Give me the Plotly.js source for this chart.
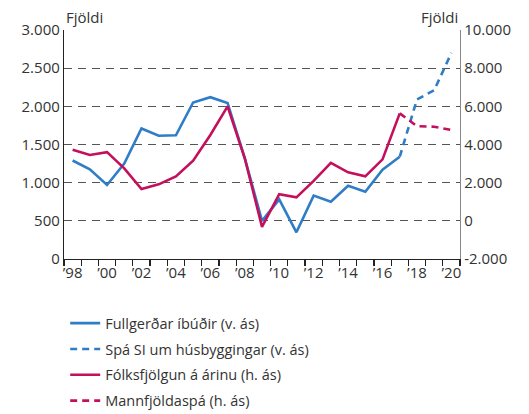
<!DOCTYPE html>
<html>
<head>
<meta charset="utf-8">
<script src="https://cdn.plot.ly/plotly-3.0.1.min.js"></script>
<style>html,body{margin:0;padding:0;background:#fff;}#chart{width:529px;height:414px;}</style>
</head>
<body>
<div id="chart"></div>
<script>
// Data
const yearsActual = [1998,1999,2000,2001,2002,2003,2004,2005,2006,2007,2008,2009,2010,2011,2012,2013,2014,2015,2016,2017];
const housingActual = [1290,1175,970,1250,1710,1615,1620,2050,2120,2045,1320,500,780,350,830,750,960,880,1170,1340];
const popGrowth = [3730,3450,3600,2750,1670,1910,2330,3150,4500,6000,3280,-320,1400,1230,2090,3040,2540,2330,3220,5630];
const yearsForecast = [2017,2018,2019,2020];
const housingForecast = [1340,2090,2210,2700];
const popForecast = [5630,4960,4930,4760];
const xTickVals = [1998,2000,2002,2004,2006,2008,2010,2012,2014,2016,2018,2020];
const xTickText = ["’98","’00","’02","’04","’06","’08","’10","’12","’14","’16","’18","’20"];
const leftTicks = [0,500,1000,1500,2000,2500,3000];
const leftTickText = ["0","500","1.000","1.500","2.000","2.500","3.000"];
const rightTicks = [-2000,0,2000,4000,6000,8000,10000];
const rightTickText = ["-2.000","0","2.000","4.000","6.000","8.000","10.000"];
const names = ["Fullgerðar íbúðir (v. ás)","Spá SI um húsbyggingar (v. ás)","Fólksfjölgun á árinu (h. ás)","Mannfjöldaspá (h. ás)"];

const BLUE = "#2F7DC6";
const RED = "#C4105C";

const traces = [
  {x: yearsActual, y: housingActual, name: names[0], type:'scatter', mode:'lines', line:{color:BLUE,width:2.6}, legendgroup:'a'},
  {x: yearsForecast, y: housingForecast, name: names[1], type:'scatter', mode:'lines', line:{color:BLUE,width:2.6,dash:'7px,5px'}, legendgroup:'b'},
  {x: yearsActual, y: popGrowth, name: names[2], type:'scatter', mode:'lines', line:{color:RED,width:2.6}, yaxis:'y2', legendgroup:'c'},
  {x: yearsForecast, y: popForecast, name: names[3], type:'scatter', mode:'lines', line:{color:RED,width:2.6,dash:'7px,5px'}, yaxis:'y2', legendgroup:'d'}
];

const fnt = {family:"'Open Sans', 'Noto Sans', sans-serif", size:15, color:'#333'};

const layout = {
  width:529, height:414,
  margin:{l:64, r:69, t:30, b:155},
  paper_bgcolor:'#fff', plot_bgcolor:'#fff',
  font: fnt,
  showlegend:true,
  legend:{orientation:'v', xref:'paper', yref:'container', x:0.003, xanchor:'left', y:0.258, yanchor:'top',
          font:{family:fnt.family,size:14.5,color:'#333'}, tracegroupgap:4, bgcolor:'rgba(0,0,0,0)'},
  xaxis:{range:[1997.5,2020.5], tickvals:xTickVals, ticktext:xTickText, ticks:'', showgrid:false, zeroline:false,
         showline:true, linecolor:'#222', linewidth:1.2, tickfont:fnt, automargin:false,
         minor:{tick0:1997.5, dtick:1, ticks:'outside', ticklen:6, tickcolor:'#222', tickwidth:1.2, showgrid:false}},
  yaxis:{range:[0,3000], tickvals:leftTicks, ticktext:leftTickText, showgrid:true, gridcolor:'#555', gridwidth:1.2, griddash:'8px,6px',
         zeroline:false, showline:true, linecolor:'#222', linewidth:1.2, ticks:'', tickfont:fnt, automargin:false},
  yaxis2:{range:[-2000,10000], tickvals:rightTicks, ticktext:rightTickText, overlaying:'y', side:'right', showgrid:false, zeroline:false,
          showline:true, linecolor:'#888', linewidth:1.2, ticks:'', tickfont:fnt, automargin:false},
  annotations:[
    {text:'Fjöldi', xref:'paper', yref:'paper', x:0, y:1, xanchor:'left', yanchor:'bottom', yshift:1, showarrow:false, font:fnt},
    {text:'Fjöldi', xref:'paper', yref:'paper', x:1, y:1, xanchor:'right', yanchor:'bottom', yshift:1, showarrow:false, font:fnt}
  ]
};

Plotly.newPlot('chart', traces, layout, {displayModeBar:false, staticPlot:true});
</script>
</body>
</html>
